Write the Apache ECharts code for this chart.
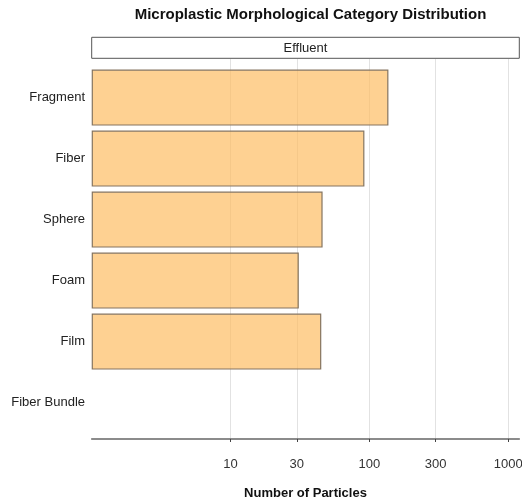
<!DOCTYPE html>
<html>
<head>
<meta charset="utf-8">
<script src="https://cdn.jsdelivr.net/npm/echarts@6/dist/echarts.min.js"></script>
<style>html,body{margin:0;padding:0;background:#fff}#c{width:522px;height:501px}</style>
</head>
<body>
<div id="c"></div>
<script>
const categories = ['Fragment', 'Fiber', 'Sphere', 'Foam', 'Film', 'Fiber Bundle'];
const counts = [137, 92, 46, 31, 45, null];
const tickValues = [10, 30, 100, 300, 1000];
const facetLabel = 'Effluent';
const xMin = 1, xMax = 1200;

const L = Math.log10;
const chart = echarts.init(document.getElementById('c'));
const FONT = 'Liberation Sans, Arial, sans-serif';
const panelLeft = 91.7, panelRight = 2.7;
const logTicks = tickValues.map(L);

chart.setOption({
  animation: false,
  title: {
    text: 'Microplastic Morphological Category Distribution',
    left: 305.5, top: 2.5, textAlign: 'center',
    textStyle: { fontFamily: FONT, fontSize: 15, fontWeight: 'bold', color: '#111' }
  },
  graphic: [
    { type: 'rect', shape: { x: 91.7, y: 37.3, width: 427.6, height: 21 },
      style: { fill: '#fff', stroke: '#555', lineWidth: 1 } },
    { type: 'text', x: 305.5, y: 48, style: { text: facetLabel, fontFamily: FONT, fontSize: 13, fill: '#222', align: 'center', verticalAlign: 'middle' } }
  ],
  grid: [
    { left: panelLeft, right: panelRight, top: 59, bottom: 501 - 439, outerBoundsMode: 'none', containLabel: false },
    { left: panelLeft, right: panelRight, top: 67.1, bottom: 501 - 433.1, outerBoundsMode: 'none', containLabel: false }
  ],
  xAxis: [
    {
      gridIndex: 0, type: 'value', min: L(xMin), max: L(xMax),
      axisLine: { show: true, lineStyle: { color: '#666', width: 1.5 } },
      axisTick: { show: true, customValues: logTicks, length: 3, lineStyle: { color: '#444' } },
      axisLabel: { customValues: logTicks, formatter: v => String(Math.round(Math.pow(10, v))),
        fontFamily: FONT, fontSize: 13, color: '#333', margin: 19 },
      splitLine: { show: true, lineStyle: { color: '#e2e2e2', width: 1 } },
      name: 'Number of Particles', nameLocation: 'middle', nameGap: 48,
      nameTextStyle: { fontFamily: FONT, fontSize: 13, fontWeight: 'bold', color: '#111' }
    },
    {
      gridIndex: 1, type: 'value', min: L(xMin), max: L(xMax), show: false,
      splitLine: { show: false }
    }
  ],
  yAxis: [
    { gridIndex: 0, type: 'value', show: false, splitLine: { show: false } },
    {
      gridIndex: 1, type: 'category', data: categories, inverse: true,
      axisLine: { show: false }, axisTick: { show: false },
      axisLabel: { fontFamily: FONT, fontSize: 13, color: '#222', margin: 6.7 },
      splitLine: { show: false }
    }
  ],
  series: [{
    type: 'bar', xAxisIndex: 1, yAxisIndex: 1,
    data: counts.map(v => v == null ? null : L(v)),
    barWidth: 56,
    itemStyle: { color: 'rgba(253,190,100,0.7)', borderColor: '#857560', borderWidth: 1.2 }
  }]
});
</script>
</body>
</html>
